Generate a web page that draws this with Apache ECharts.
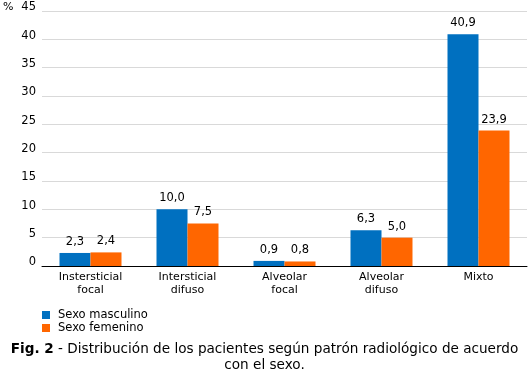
<!DOCTYPE html>
<html><head><meta charset="utf-8">
<script src="https://cdn.jsdelivr.net/npm/echarts@6/dist/echarts.min.js"></script>
<style>html,body{margin:0;padding:0;background:#fff}#c{width:529px;height:373px}</style>
</head><body><div id="c"></div>
<script>
const categories = ['Instersticial\nfocal', 'Intersticial\ndifuso', 'Alveolar\nfocal', 'Alveolar\ndifuso', 'Mixto'];
const masculino = [2.3, 10.0, 0.9, 6.3, 40.9];
const femenino = [2.4, 7.5, 0.8, 5.0, 23.9];
const seriesNames = ['Sexo masculino', 'Sexo femenino'];
const yTicks = {min: 0, max: 45, interval: 5};

const FONT = 'DejaVu Sans';
const fmt = p => p.value.toFixed(1).replace('.', ',');
const chart = echarts.init(document.getElementById('c'));
chart.setOption({
  animation: false,
  textStyle: {fontFamily: FONT},
  grid: {left: 42, right: 2, top: 11, bottom: 107, containLabel: false},
  graphic: [
    {type: 'text', left: 3, top: 2, style: {text: '%', font: '11px DejaVu Sans', fill: '#000'}},
    {type: 'text', left: 'center', top: 342, style: {
      text: '{b|Fig. 2} - Distribución de los pacientes según patrón radiológico de acuerdo',
      font: '13.6px DejaVu Sans', fill: '#000',
      rich: {b: {fontWeight: 'bold', fontSize: 13.6, fontFamily: FONT}}
    }},
    {type: 'text', left: 'center', top: 358, style: {
      text: 'con el sexo.', font: '13.6px DejaVu Sans', fill: '#000'
    }}
  ],
  legend: {
    orient: 'vertical', left: 37, top: 304, itemWidth: 8, itemHeight: 8, itemGap: 1,
    icon: 'rect', textStyle: {fontSize: 11.5, color: '#000', fontFamily: FONT, padding: [0, 0, 0, 3]},
    data: seriesNames
  },
  xAxis: {
    type: 'category', data: categories,
    axisLine: {lineStyle: {color: '#000', width: 1}},
    axisTick: {show: false},
    axisLabel: {color: '#000', fontSize: 11, lineHeight: 13, margin: 5, interval: 0}
  },
  yAxis: {
    type: 'value', min: yTicks.min, max: yTicks.max, interval: yTicks.interval,
    axisLabel: {color: '#000', fontSize: 11.5, margin: 6, verticalAlign: 'bottom', lineHeight: 7},
    splitLine: {lineStyle: {color: '#d9d9d9'}},
    axisLine: {show: false}, axisTick: {show: false}
  },
  series: [
    {name: seriesNames[0], type: 'bar', data: masculino, barWidth: 31, barGap: '0%',
     itemStyle: {color: '#0070C0'},
     label: {show: true, position: 'top', formatter: fmt, color: '#000', fontSize: 11.5, distance: 5}},
    {name: seriesNames[1], type: 'bar', data: femenino, barWidth: 31, barGap: '0%',
     itemStyle: {color: '#FF6600'},
     label: {show: true, position: 'top', formatter: fmt, color: '#000', fontSize: 11.5, distance: 5}}
  ]
});
</script></body></html>
